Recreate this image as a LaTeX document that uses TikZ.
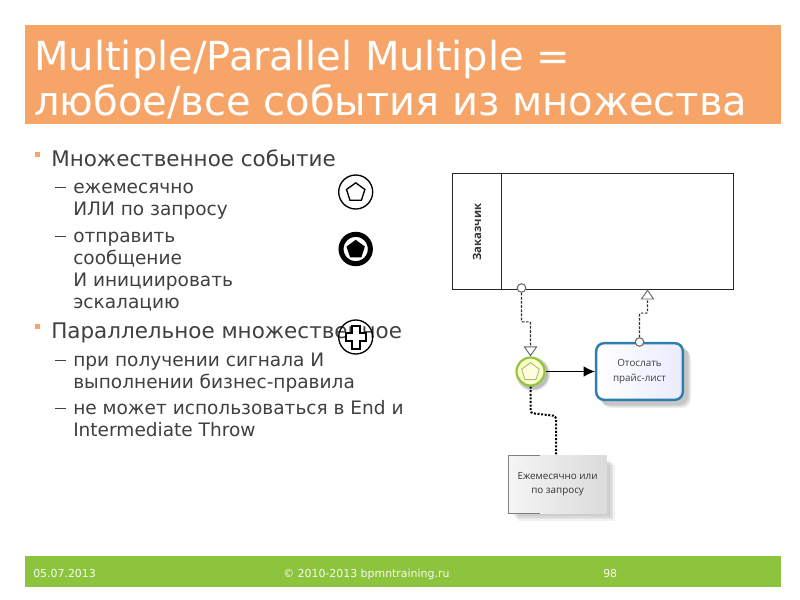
\documentclass[tikz,border=0pt]{standalone}
\usepackage{fontspec}
\setmainfont{DejaVu Sans}
\newfontfamily\labelfont{Open Sans}
\usetikzlibrary{shapes.geometric,arrows.meta,calc,shadings}
\definecolor{titlebg}{HTML}{F7A468}
\definecolor{footbg}{HTML}{8CC43E}
\definecolor{bodytext}{HTML}{404040}
\definecolor{flowgray}{HTML}{303030}
\tikzset{
  titletext/.style={anchor=base west,inner sep=0pt,text=white,font=\fontsize{30pt}{32pt}\selectfont},
  lvlone/.style={anchor=base west,inner sep=0pt,text=bodytext,font=\fontsize{16.1pt}{18pt}\selectfont},
  lvltwo/.style={anchor=base west,inner sep=0pt,text=bodytext,font=\fontsize{13.9pt}{15pt}\selectfont},
  foot/.style={anchor=base west,inner sep=0pt,text=white!92!footbg,font=\fontsize{8.2pt}{10pt}\selectfont},
  bulletbox/.style={fill=titlebg,minimum size=3.75pt,inner sep=0pt,draw=none},
  dashbar/.style={draw=bodytext,line width=0.7pt},
  symcircle/.style={circle,draw=black,fill=none,minimum size=25.5pt,inner sep=0pt,line width=1pt},
  flowstart/.style={circle,draw=black!60,fill=white,minimum size=6.4pt,inner sep=0pt,line width=0.8pt},
  msgflow/.style={draw=flowgray,line width=0.8pt,dash pattern=on 2pt off 1.1pt,rounded corners=0.6pt},
  msghead/.style={draw=black!60,fill=white,line width=0.7pt,line join=miter},
  assoc/.style={draw=black,line width=1.5pt,dash pattern=on 1.5pt off 1.2pt,rounded corners=2pt},
  tasklabel/.style={align=center,inner sep=0pt,text=black!75,font=\labelfont\fontsize{7.4pt}{11pt}\selectfont},
}
\begin{document}
\begin{tikzpicture}[x=0.75pt,y=-0.75pt]
\useasboundingbox (0,0) rectangle (800,600);
\fill[white] (0,0) rectangle (800,600);
% title and footer bands
\fill[titlebg] (25,25) rectangle (781,124);
\fill[footbg] (25,556) rectangle (781,587);
\node[titletext] (t1) at (34,70) {Multiple/Parallel Multiple =};
\node[titletext] (t2) at (34,115) {любое/все события из множества};
\node[foot] (f1) at (33,577) {05.07.2013};
\node[foot] (f2) at (283,577) {© 2010-2013 bpmntraining.ru};
\node[foot] (f3) at (603,577) {98};
% body text
\node[bulletbox] (b1) at (37.5,154.5) {};
\node[lvlone] (l1) at (51,166) {Множественное событие};
\draw[dashbar] (55,187) -- (66,187);
\node[lvltwo] (l2) at (73,193) {ежемесячно};
\node[lvltwo] (l3) at (73,215) {ИЛИ по запросу};
\draw[dashbar] (55,236) -- (66,236);
\node[lvltwo] (l4) at (73,242) {отправить};
\node[lvltwo] (l5) at (73,264) {сообщение};
\node[lvltwo] (l6) at (73,286) {И инициировать};
\node[lvltwo] (l7) at (73,308) {эскалацию};
\node[bulletbox] (b2) at (37.5,326.5) {};
\node[lvlone] (l8) at (51,338) {Параллельное множественное};
\draw[dashbar] (55,360) -- (66,360);
\node[lvltwo] (l9) at (73,366) {при получении сигнала И};
\node[lvltwo] (l10) at (73,388) {выполнении бизнес-правила};
\draw[dashbar] (55,408) -- (66,408);
\node[lvltwo] (l11) at (73,414) {не может использоваться в End и};
\node[lvltwo] (l12) at (73,436) {Intermediate Throw};
% legend symbols
\node[symcircle] (s1) at (355.7,192) {};
\node[regular polygon,regular polygon sides=5,draw=black,line width=1pt,minimum size=14.5pt,inner sep=0pt] (p1) at (355.7,192.5) {};
\node[symcircle,line width=3.8pt,minimum size=22pt] (s2) at (355.7,249) {};
\node[regular polygon,regular polygon sides=5,fill=black,minimum size=14.5pt,inner sep=0pt] (p2) at (355.7,249.5) {};
\node[symcircle] (s3) at (355.7,337) {};
\draw[fill=white,draw=black,line width=1.5pt]
  ($(s3)+(-4,-11.5)$) -- ++(8,0) -- ++(0,7.5) -- ++(6,0) -- ++(0,8) -- ++(-6,0) -- ++(0,7.5) -- ++(-8,0) -- ++(0,-7.5) -- ++(-6,0) -- ++(0,-8) -- ++(6,0) -- cycle;
% pool
\node[draw=black!85,line width=0.8pt,minimum width=210.75pt,minimum height=87pt,inner sep=0pt,anchor=north west] (pool) at (452,173) {};
\draw[draw=black!85,line width=0.6pt] (501,173) -- (501,289);
\node[rotate=90,inner sep=0pt,text=black!80,font=\labelfont\bfseries\fontsize{8.5pt}{9pt}\selectfont] (poolname) at (477,232) {Заказчик};
% soft shadows
\foreach \o/\e in {5/0,4/1,3/2,2/3}{
  \fill[black,opacity=0.06,rounded corners=7pt] (597+\o,344+\o) rectangle (686+\o,403+\o);
  \fill[black,opacity=0.05] (510+1.5*\o,457+1.5*\o) rectangle (607+1.5*\o,513+1.5*\o);
  \fill[black,opacity=0.07] (533,374) circle[radius=15+\e*0.7];
}
% task
\node[draw={rgb,255:red,45;green,125;blue,175},line width=1.8pt,rounded corners=6pt,left color=white,right color=blue!8,
  minimum width=65pt,minimum height=42.5pt,inner sep=0pt,anchor=center,tasklabel] (task) at (639.5,371.5) {Отослать\\прайс-лист};
% start event
\node[circle,draw={rgb,255:red,150;green,195;blue,60},line width=1.6pt,inner color=white,outer color=green!12!yellow!25,minimum size=21pt,inner sep=0pt] (ev) at (530.5,371.5) {};
\node[regular polygon,regular polygon sides=5,draw={rgb,255:red,175;green,190;blue,100},fill=yellow!12,line width=0.7pt,minimum size=14pt,inner sep=0pt] (evp) at (530.5,372) {};
% data/annotation box
\node[draw=none,left color=black!4,right color=black!14,minimum width=74pt,minimum height=43.5pt,inner sep=0pt,anchor=north west,tasklabel,text=black!80] (note) at (508,455) {Ежемесячно или\\по запросу};
\draw[black!50,line width=0.6pt] (540,455) -- (508,455) -- (508,513) -- (540,513);
% connectors
\node[flowstart] (c1) at (521.5,288) {};
\node[flowstart] (c2) at (639.5,342) {};
\coordinate (h1) at (530.5,349);
\coordinate (h2) at (647.5,296);
\draw[msgflow] (c1.south) -- ++(0,29) -| (h1);
\draw[msgflow] (c2.north) -- ++(0,-24) -| (h2);
\node[isosceles triangle,isosceles triangle apex angle=70,shape border rotate=-90,msghead,minimum height=6.5pt,minimum width=7.5pt,inner sep=0pt,anchor=apex] (a1) at (ev.north) {};
\node[isosceles triangle,isosceles triangle apex angle=70,shape border rotate=90,msghead,minimum height=6.5pt,minimum width=7.5pt,inner sep=0pt,anchor=apex] (a2) at (647.5,289.5) {};
\draw[black,line width=0.9pt,-{Latex[length=8.5pt,width=8pt]}] (ev.east) -- (task.west);
\coordinate (m1) at (530.5,413);
\coordinate (m2) at (556,416);
\coordinate (m3) at (556,455);
\draw[assoc] (ev.south) -- (m1) -- (m2) -- (m3);
\end{tikzpicture}
\end{document}
